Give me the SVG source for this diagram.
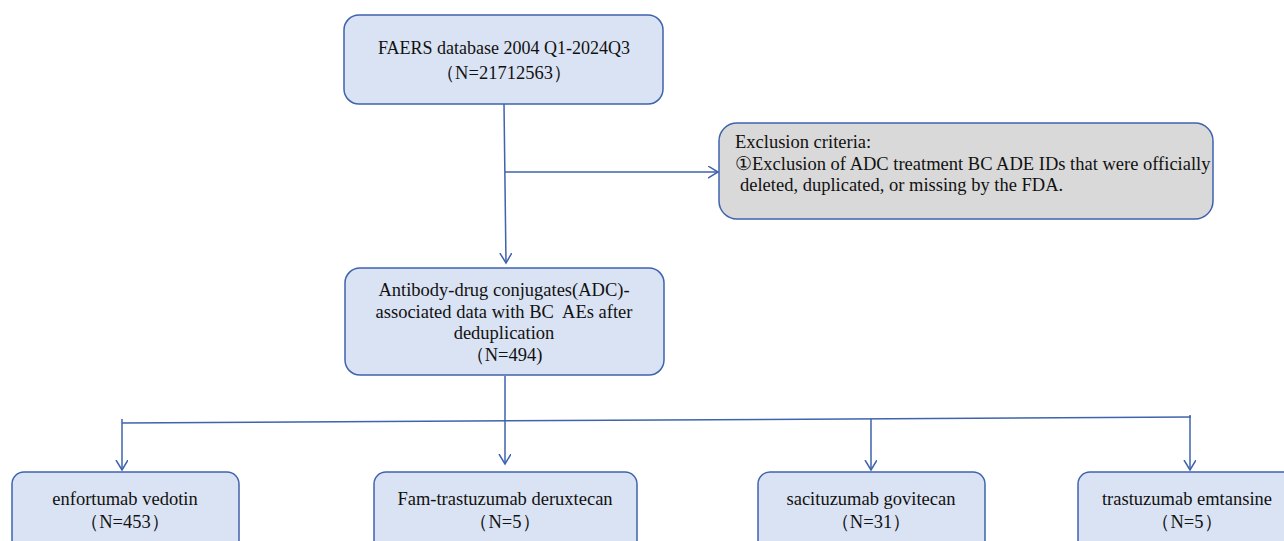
<svg xmlns="http://www.w3.org/2000/svg" width="1284" height="541" viewBox="0 0 1284 541">
<style>
.box{fill:#dae3f3;stroke:#3f63ad;stroke-width:1.5}
.gbox{fill:#d9d9d9;stroke:#3f63ad;stroke-width:1.5}
.t{font-family:"Liberation Serif","Times New Roman",serif;font-size:18.5px;fill:#111}
.c{text-anchor:middle}
.ln{stroke:#3f63ad;stroke-width:1.5;fill:none}
</style>
<defs>
<marker id="ah" markerWidth="14" markerHeight="14" refX="10" refY="6" orient="auto" markerUnits="userSpaceOnUse">
<polyline points="0,0 10,6 0,12" fill="none" stroke="#3f63ad" stroke-width="1.5"/>
</marker>
</defs>
<g id="connectors">
<line class="ln" x1="504" y1="104" x2="506" y2="263" marker-end="url(#ah)"/>
<line class="ln" x1="505" y1="172" x2="718" y2="172" marker-end="url(#ah)"/>
<line class="ln" x1="505" y1="376" x2="505" y2="464" marker-end="url(#ah)"/>
<line class="ln" x1="122" y1="423" x2="1191" y2="417"/>
<line class="ln" x1="122" y1="419" x2="122" y2="470" marker-end="url(#ah)"/>
<line class="ln" x1="871" y1="419" x2="871" y2="470" marker-end="url(#ah)"/>
<line class="ln" x1="1190" y1="415" x2="1190" y2="470" marker-end="url(#ah)"/>
</g>
<g id="node-faers">
<rect class="box" x="344" y="15" width="319" height="89" rx="15"/>
<text class="t c" x="504" y="54" style="font-size:18px">FAERS database 2004 Q1-2024Q3</text>
<text class="t c" x="504" y="79">（N=21712563）</text>
</g>
<g id="node-exclusion">
<rect class="gbox" x="719" y="123" width="494" height="96" rx="18"/>
<text class="t" x="735" y="148">Exclusion criteria:</text>
<text class="t" x="735" y="170">①Exclusion of ADC treatment BC ADE IDs that were officially</text>
<text class="t" x="740" y="191">deleted, duplicated, or missing by the FDA.</text>
</g>
<g id="node-adc">
<rect class="box" x="345" y="268" width="319" height="107" rx="15"/>
<text class="t c" x="504" y="296">Antibody-drug conjugates(ADC)-</text>
<text class="t c" x="504" y="318" xml:space="preserve">associated data with BC  AEs after</text>
<text class="t c" x="504" y="339">deduplication</text>
<text class="t c" x="504" y="361">（N=494)</text>
</g>
<g id="node-ev">
<rect class="box" x="12" y="472" width="227" height="80" rx="12"/>
<text class="t c" x="125" y="505">enfortumab vedotin</text>
<text class="t c" x="125" y="528">（N=453）</text>
</g>
<g id="node-fam">
<rect class="box" x="374" y="472" width="263" height="80" rx="12"/>
<text class="t c" x="505" y="505">Fam-trastuzumab deruxtecan</text>
<text class="t c" x="505" y="528">（N=5）</text>
</g>
<g id="node-sg">
<rect class="box" x="758" y="472" width="227" height="80" rx="12"/>
<text class="t c" x="871" y="505">sacituzumab govitecan</text>
<text class="t c" x="871" y="528">（N=31）</text>
</g>
<g id="node-tdm1">
<rect class="box" x="1078" y="472" width="220" height="80" rx="12"/>
<text class="t c" x="1187" y="505">trastuzumab emtansine</text>
<text class="t c" x="1187" y="528">（N=5）</text>
</g>
</svg>
